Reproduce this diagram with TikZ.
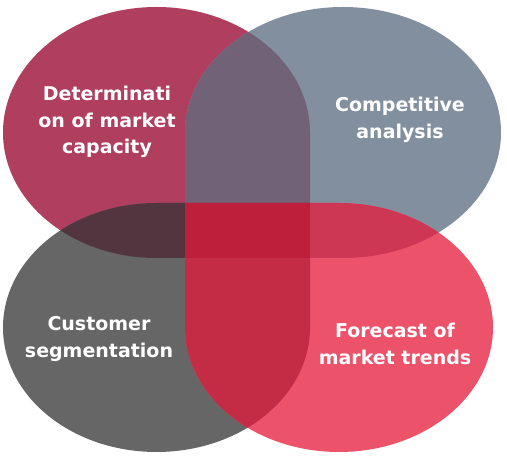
\documentclass[tikz,border=0pt]{standalone}
\usepackage{fontspec}
\setmainfont{DejaVu Sans}
\definecolor{cTL}{HTML}{B03E5E}
\definecolor{cTR}{HTML}{828F9E}
\definecolor{cBL}{HTML}{666666}
\definecolor{cBR}{HTML}{EC536B}
\definecolor{cTLTR}{HTML}{716278}
\definecolor{cTLBL}{HTML}{533540}
\definecolor{cTRBR}{HTML}{CD3753}
\definecolor{cBLBR}{HTML}{C42B45}
\definecolor{cALL}{HTML}{BE1F3A}
\tikzset{lbl/.style={text=white,align=center,font=\bfseries\fontsize{19}{26.5}\selectfont,inner sep=0pt}}
\begin{document}
\begin{tikzpicture}[x=1pt,y=1pt]
\useasboundingbox (0,0) rectangle (507,465);
\def\pTL{(310,332.5) arc[start angle=0,end angle=270,x radius=153.5pt,y radius=125.5pt] -- (310,207) -- cycle}
\def\pTR{(343,207) arc[start angle=270,end angle=540,x radius=158pt,y radius=125.5pt] -- (185,207) -- cycle}
\def\pBL{(156.5,262) arc[start angle=90,end angle=360,x radius=153.5pt,y radius=124.5pt] -- (310,262) -- cycle}
\def\pBR{(185,137.5) arc[start angle=180,end angle=450,x radius=154pt,y radius=124.5pt] -- (185,262) -- cycle}
\fill[cTL] \pTL;
\fill[cTR] \pTR;
\fill[cBL] \pBL;
\fill[cBR] \pBR;
\begin{scope}\clip \pTL; \fill[cTLTR] \pTR; \end{scope}
\begin{scope}\clip \pTL; \fill[cTLBL] \pBL; \end{scope}
\begin{scope}\clip \pTR; \fill[cTRBR] \pBR; \end{scope}
\begin{scope}\clip \pBL; \fill[cBLBR] \pBR; \end{scope}
\fill[cALL] (185,207) rectangle (310,262);
\node[lbl] (tl) at (107,343) {Determinati\\on of market\\capacity};
\node[lbl] (tr) at (400,345) {Competitive\\analysis};
\node[lbl] (bl) at (99,126) {Customer\\segmentation};
\node[lbl] (br) at (395,121) {Forecast of\\market trends};
\end{tikzpicture}
\end{document}
